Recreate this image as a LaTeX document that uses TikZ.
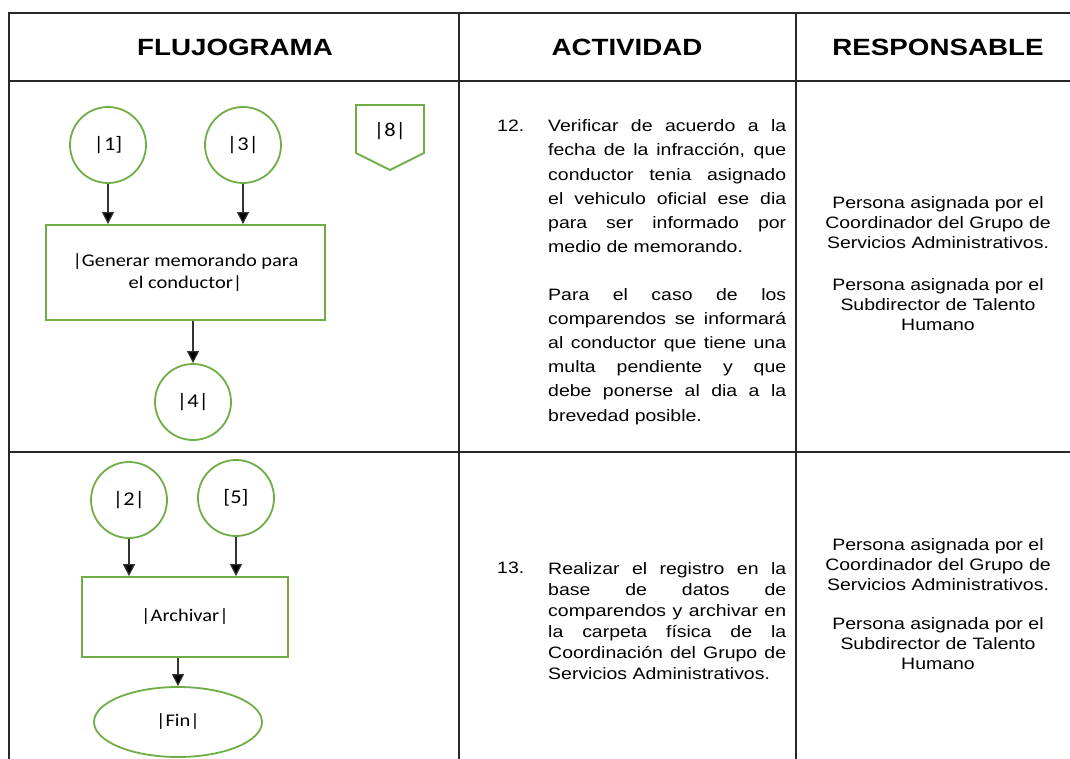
\documentclass[tikz,border=0pt]{standalone}
\usepackage{fontspec}
\setmainfont{Liberation Sans}[FakeStretch=1.18]
\newfontfamily\flowfont{Carlito}[FakeStretch=1.15]
\usetikzlibrary{shapes.geometric,arrows.meta}
\definecolor{flowgreen}{RGB}{112,173,71}
\definecolor{tableline}{RGB}{40,40,40}
\begin{document}
\begin{tikzpicture}[x=1pt,y=-1pt,
  tline/.style={draw=tableline,line width=2.6pt},
  conn/.style={circle,draw=flowgreen,line width=1.8pt,minimum size=76pt,inner sep=0pt,font=\flowfont\fontsize{19.5}{22}\selectfont},
  procbox/.style={rectangle,draw=flowgreen,line width=1.8pt,inner sep=0pt,align=center,font=\flowfont\fontsize{17.8}{22}\selectfont},
  endbox/.style={ellipse,draw=flowgreen,line width=1.8pt,inner sep=0pt,font=\flowfont\fontsize{17.8}{22}\selectfont},
  flowarrow/.style={draw=black!80,line width=1.2pt,-{Triangle[width=12pt,length=12pt,fill=black]}},
  head/.style={font=\bfseries\fontsize{23.5}{28}\selectfont},
  act/.style={anchor=north west,inner sep=0pt,text width=238pt,align=justify,font=\fontsize{16.5}{24.2}\selectfont},
  actnum/.style={anchor=north west,inner sep=0pt,font=\fontsize{16.5}{24.2}\selectfont},
  resp/.style={inner sep=0pt,text width=270pt,align=center,font=\fontsize{16.5}{20}\selectfont}]
\useasboundingbox (0,0) rectangle (1070,759);
\fill[white] (0,0) rectangle (1070,759);
% table
\draw[tline] (1070,13) -- (9,13) -- (9,759);
\draw[tline] (9,81) -- (1070,81);
\draw[tline] (9,452) -- (1070,452);
\draw[tline] (459,13) -- (459,759);
\draw[tline] (796,13) -- (796,759);
% headers
\node[head] (h1) at (235,47) {FLUJOGRAMA};
\node[head] (h2) at (627,47) {ACTIVIDAD};
\node[head] (h3) at (938,47) {RESPONSABLE};
% row 1 flow
\node[conn] (c1) at (108,145) {|1]};
\node[conn] (c3) at (243,145) {|3|};
\draw[draw=flowgreen,line width=1.8pt] (356,105) -- (424,105) -- (424,153) -- (390,170) -- (356,153) -- cycle;
\node[font=\flowfont\fontsize{19.5}{22}\selectfont] (off8) at (390,131) {|8|};
\node[procbox,minimum width=279pt,minimum height=95pt] (r1) at (185.5,272.5) {|Generar memorando para\\el conductor|};
\node[conn] (c4) at (193,402) {|4|};
\draw[flowarrow] (c1.south) -- (c1.south |- r1.north);
\draw[flowarrow] (c3.south) -- (c3.south |- r1.north);
\draw[flowarrow] (c4.north |- r1.south) -- (c4.north);
% row 1 text
\node[actnum] (n12) at (497,119.5) {12.};
\node[act] (a12a) at (548,119.5) {Verificar de acuerdo a la\linebreak fecha de la infracción, que\linebreak conductor tenia asignado\linebreak el vehiculo oficial ese dia\linebreak para ser informado por\linebreak medio de memorando.};
\node[act] (a12b) at (548,288) {Para el caso de los\linebreak comparendos se informará\linebreak al conductor que tiene una\linebreak multa pendiente y que\linebreak debe ponerse al dia a la\linebreak brevedad posible.};
\node[resp] (r12a) at (938,223) {Persona asignada por el\\Coordinador del Grupo de\\Servicios Administrativos.};
\node[resp] (r12b) at (938,305) {Persona asignada por el\\Subdirector de Talento\\Humano};
% row 2 flow
\node[conn] (c2) at (129,500) {|2|};
\node[conn] (c5) at (236,498) {[5]};
\node[procbox,minimum width=206pt,minimum height=80pt] (r2) at (185,617) {|Archivar|};
\node[endbox,minimum width=168pt,minimum height=70pt] (fin) at (178,722) {|Fin|};
\draw[flowarrow] (c2.south) -- (c2.south |- r2.north);
\draw[flowarrow] (c5.south) -- (c5.south |- r2.north);
\draw[flowarrow] (fin.north |- r2.south) -- (fin.north);
% row 2 text
\node[actnum] (n13) at (497,562) {13.};
\node[act,font=\fontsize{16.5}{21}\selectfont] (a13) at (548,562) {Realizar el registro en la\linebreak base de datos de\linebreak comparendos y archivar en\linebreak la carpeta física de la\linebreak Coordinación del Grupo de\linebreak Servicios Administrativos.};
\node[resp] (r13a) at (938,565) {Persona asignada por el\\Coordinador del Grupo de\\Servicios Administrativos.};
\node[resp] (r13b) at (938,644) {Persona asignada por el\\Subdirector de Talento\\Humano};
\end{tikzpicture}
\end{document}
